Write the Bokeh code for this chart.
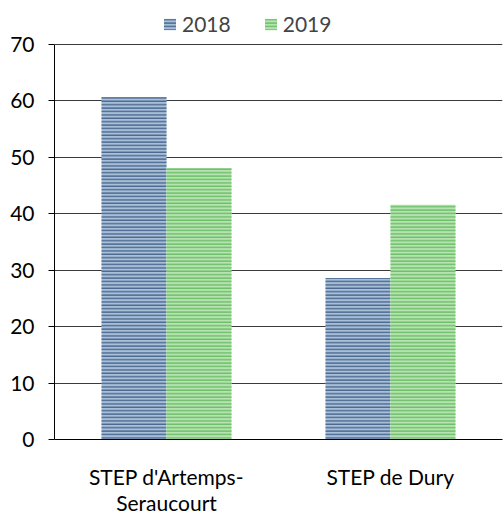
from bokeh.plotting import figure
from bokeh.models import ColumnDataSource, FactorRange, Range1d, Legend, LegendItem, FixedTicker
from bokeh.transform import dodge
from bokeh.embed import file_html
from bokeh.resources import INLINE

categories = ["STEP d'Artemps-\nSeraucourt", "STEP de Dury"]
values_2018 = [60.7, 28.6]
values_2019 = [48.1, 41.6]
series = ["2018", "2019"]
y_ticks = [0, 10, 20, 30, 40, 50, 60, 70]

FONT = "Lato"
FS = "21px"
src = ColumnDataSource(dict(cat=categories, v2018=values_2018, v2019=values_2019))

p = figure(width=503, height=517, x_range=FactorRange(*categories), y_range=Range1d(0, 77.80),
           output_backend="svg", toolbar_location=None,
           min_border_left=54, min_border_right=1, min_border_top=0, min_border_bottom=0)
p.outline_line_color = None
p.background_fill_color = "white"

r1 = p.vbar(x=dodge("cat", -0.145, range=p.x_range), top="v2018", width=0.29, source=src,
            fill_color="#a9bfd8", line_color=None,
            hatch_pattern="horizontal_line", hatch_color="#4a6890", hatch_scale=3.4, hatch_weight=1.4)
r2 = p.vbar(x=dodge("cat", 0.145, range=p.x_range), top="v2019", width=0.29, source=src,
            fill_color="#b6e3b1", line_color=None,
            hatch_pattern="horizontal_line", hatch_color="#6cbf67", hatch_scale=3.4, hatch_weight=1.4)

p.yaxis.ticker = FixedTicker(ticks=y_ticks)
p.yaxis.bounds = (0, 70)
p.yaxis.axis_line_color = "black"
p.yaxis.major_tick_line_color = "black"
p.yaxis.major_tick_out = 6
p.yaxis.major_tick_in = 0
p.yaxis.minor_tick_line_color = None
p.yaxis.major_label_standoff = 14
p.yaxis.major_label_text_font = FONT
p.yaxis.major_label_text_font_size = FS
p.yaxis.major_label_text_color = "black"

p.xaxis.axis_line_color = "black"
p.xaxis.major_tick_line_color = None
p.xaxis.minor_tick_line_color = None
p.xaxis.major_label_standoff = 18
p.xaxis.major_label_text_font = FONT
p.xaxis.major_label_text_font_size = FS
p.xaxis.major_label_text_line_height = 1.05
p.xaxis.major_label_text_color = "black"

p.xgrid.grid_line_color = None
p.ygrid.ticker = FixedTicker(ticks=y_ticks)
p.ygrid.grid_line_color = "#3a3a3a"
p.ygrid.grid_line_width = 1.2

legend = Legend(items=[LegendItem(label=series[0], renderers=[r1]),
                       LegendItem(label=series[1], renderers=[r2])],
                orientation="horizontal", location=(108, 403),
                glyph_width=15, glyph_height=14, label_standoff=5, spacing=32,
                padding=0, margin=0, border_line_color=None, background_fill_alpha=0,
                label_text_font=FONT, label_text_font_size=FS, label_height=14)
p.add_layout(legend, "center")

open("out.html", "w").write(file_html(p, INLINE))
